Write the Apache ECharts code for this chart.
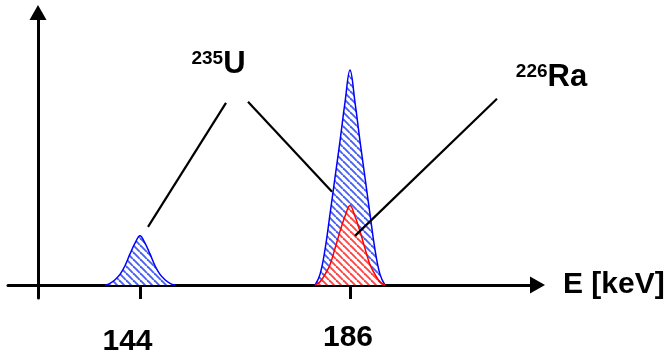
<!DOCTYPE html>
<html>
<head>
<meta charset="utf-8">
<script src="https://cdn.jsdelivr.net/npm/echarts@6/dist/echarts.min.js"></script>
<style>
  html, body { margin: 0; padding: 0; background: #fff; }
  #chart { width: 671px; height: 354px; }
</style>
</head>
<body>
<div id="chart"></div>
<script>
// Energy axis (keV) and the labelled line energies
const tickEnergies = [144, 186];

// 235U line at 144 keV
const u235LowEnergy = [137, 138, 139, 140, 141, 142, 143, 144, 145, 146, 147, 148, 149, 150, 151];
const u235LowCounts = [0, 0.8, 2.5, 5, 9, 14.5, 19.5, 23, 19.5, 14.5, 9, 5, 2.5, 0.8, 0];

// 235U line at 186 keV (sum with 226Ra)
const u235HighEnergy = [179, 180, 181, 182, 183, 184, 185, 186, 187, 188, 189, 190, 191, 192, 193];
const u235HighCounts = [0, 5, 16.5, 33, 50, 67, 85, 100, 85, 67, 50, 33, 16.5, 5, 0];

// 226Ra line at 186 keV
const ra226Energy = [179, 180, 181, 182, 183, 184, 185, 186, 187, 188, 189, 190, 191, 192, 193];
const ra226Counts = [0, 1.5, 5, 9.5, 17, 25, 32, 37, 32, 25, 17, 9.5, 5, 1.5, 0];

// Nuclide labels: mass number, element, anchor (energy, counts)
const labelMass = ['235', '226'];
const labelElement = ['U', 'Ra'];
const labelEnergy = [159.7, 226.3];
const labelCounts = [102.5, 96.5];

// Pointer lines from the labels to the peaks: [from, to]
const pointerFrom = [[161.2, 84.8], [165.6, 85.3], [215.4, 86.7]];
const pointerTo = [[145.6, 27.1], [182.4, 43.4], [187.0, 22.9]];

const FONT = '"Liberation Sans", Arial, sans-serif';

function hatch(color) {
  const s = 7;
  const c = document.createElement('canvas');
  c.width = s; c.height = s;
  const g = c.getContext('2d');
  g.fillStyle = '#ffffff';
  g.fillRect(0, 0, s, s);
  g.strokeStyle = color;
  g.lineWidth = 1.9;
  for (const k of [-s, 0, s]) {
    g.beginPath();
    g.moveTo(k, 0);
    g.lineTo(k + s, s);
    g.stroke();
  }
  return { image: c, repeat: 'repeat' };
}

function peakSeries(energy, counts, edge, fill, z) {
  return {
    type: 'line',
    data: energy.map((e, i) => [e, counts[i]]),
    smooth: 0.4,
    symbol: 'none',
    z: z,
    lineStyle: { color: edge, width: 1.5 },
    areaStyle: { color: hatch(fill), opacity: 1 },
    silent: true
  };
}

const series = [
  peakSeries(u235LowEnergy, u235LowCounts, '#0000ff', '#4a62f0', 2),
  peakSeries(u235HighEnergy, u235HighCounts, '#0000ff', '#4a62f0', 3),
  peakSeries(ra226Energy, ra226Counts, '#ff0000', '#ff4444', 4)
];

pointerFrom.forEach((p, i) => {
  series.push({
    type: 'line',
    data: [p, pointerTo[i]],
    symbol: 'none',
    z: 6,
    lineStyle: { color: '#000', width: 2.2 },
    silent: true
  });
});

const labelText = { fontFamily: FONT, fontWeight: 'bold', color: '#000', textBorderWidth: 0, textBorderColor: 'transparent' };

series.push({
  type: 'scatter',
  clip: false,
  symbolSize: 0,
  z: 7,
  silent: true,
  data: labelEnergy.map((e, i) => ({ value: [e, labelCounts[i]], mass: labelMass[i], el: labelElement[i] })),
  label: {
    show: true,
    position: 'inside',
    color: '#000',
    textBorderWidth: 0,
    textBorderColor: 'transparent',
    opacity: 1,
    formatter: p => '{sup|' + p.data.mass + '}{main|' + p.data.el + '}',
    rich: {
      sup: Object.assign({ fontSize: 19, lineHeight: 19, verticalAlign: 'top' }, labelText),
      main: Object.assign({ fontSize: 31, lineHeight: 31 }, labelText)
    }
  }
});

const chart = echarts.init(document.getElementById('chart'), null, { renderer: 'canvas' });
chart.setOption({
  animation: false,
  backgroundColor: '#ffffff',
  grid: { left: 8, right: 133.5, top: 12.5, bottom: 56, containLabel: false, outerBoundsMode: 'none' },
  xAxis: {
    type: 'value',
    min: 117.6,
    max: 223.5,
    name: 'E [keV]',
    nameLocation: 'end',
    nameGap: 25.5,
    nameTextStyle: { fontFamily: FONT, fontWeight: 'bold', fontSize: 30, color: '#000', verticalAlign: 'middle' },
    axisLine: {
      onZero: true,
      symbol: ['none', 'triangle'],
      symbolSize: [17, 15],
      lineStyle: { color: '#000', width: 3 }
    },
    axisTick: { show: true, customValues: tickEnergies, length: 14, lineStyle: { color: '#000', width: 3 } },
    axisLabel: {
      show: true,
      customValues: tickEnergies,
      margin: 25,
      formatter: v => (v === 144 ? '{a|' + v + '}' : '{b|' + v + '}'),
      rich: {
        a: { fontFamily: FONT, fontWeight: 'bold', fontSize: 30, lineHeight: 30, color: '#000', padding: [8, 25, 0, 0] },
        b: { fontFamily: FONT, fontWeight: 'bold', fontSize: 30, lineHeight: 30, color: '#000', padding: [0, 4, 0, 0] }
      }
    },
    splitLine: { show: false }
  },
  yAxis: {
    type: 'value',
    min: -6,
    max: 126.8,
    offset: -30,
    axisLine: {
      show: true,
      onZero: false,
      symbol: ['none', 'triangle'],
      symbolSize: [17, 15],
      lineStyle: { color: '#000', width: 3 }
    },
    axisTick: { show: false },
    axisLabel: { show: false },
    splitLine: { show: false }
  },
  series: series
});
</script>
</body>
</html>
